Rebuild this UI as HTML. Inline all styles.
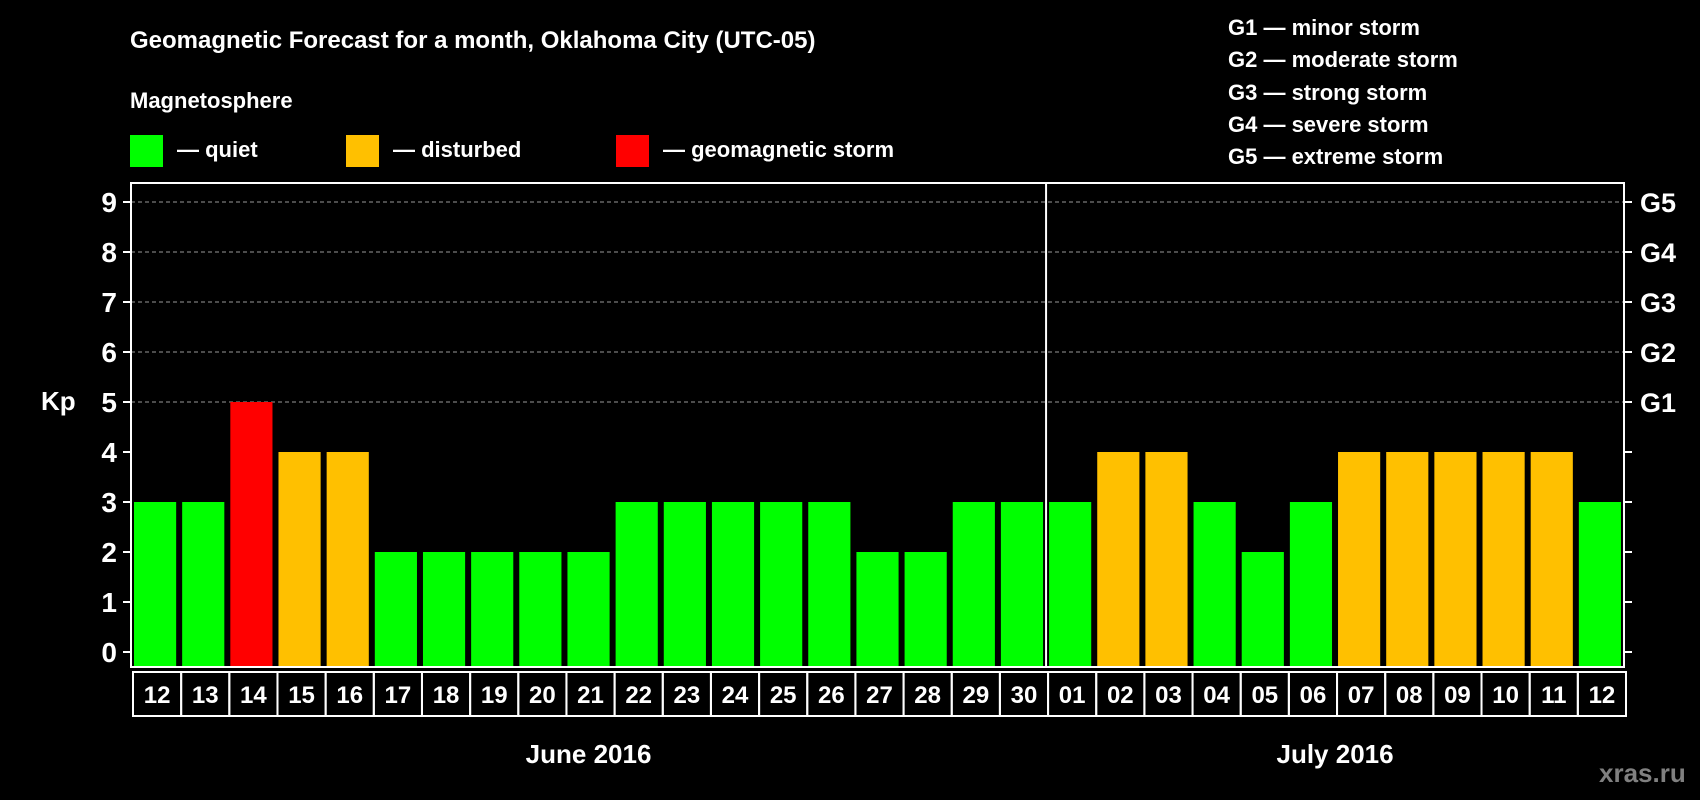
<!DOCTYPE html>
<html><head><meta charset="utf-8"><style>
html,body{margin:0;padding:0;background:#000;}
svg{display:block;font-family:"Liberation Sans",sans-serif;font-weight:bold;}
</style></head><body>
<svg id="chart" width="1700" height="800" viewBox="0 0 1700 800">
<text x="130" y="48" fill="#fff" font-size="24">Geomagnetic Forecast for a month, Oklahoma City (UTC-05)</text>
<text x="130" y="108" fill="#fff" font-size="22">Magnetosphere</text>
<g><rect x="130" y="135" width="33" height="32" fill="#00ff00"/><text x="177" y="157" fill="#fff" font-size="22">— quiet</text></g>
<g><rect x="346" y="135" width="33" height="32" fill="#ffc000"/><text x="393" y="157" fill="#fff" font-size="22">— disturbed</text></g>
<g><rect x="616" y="135" width="33" height="32" fill="#ff0000"/><text x="663" y="157" fill="#fff" font-size="22">— geomagnetic storm</text></g>
<g fill="#fff" font-size="22">
<text x="1228" y="35">G1 — minor storm</text>
<text x="1228" y="67">G2 — moderate storm</text>
<text x="1228" y="100">G3 — strong storm</text>
<text x="1228" y="132">G4 — severe storm</text>
<text x="1228" y="164">G5 — extreme storm</text>
</g>
<text x="41" y="410" fill="#fff" font-size="26">Kp</text>
<text x="1599" y="782" fill="#808080" font-size="26">xras.ru</text>
<g id="plot"></g>
</svg>
<script>
const days = ["12","13","14","15","16","17","18","19","20","21","22","23","24","25","26","27","28","29","30","01","02","03","04","05","06","07","08","09","10","11","12"];
const kpValues = [3,3,5,4,4,2,2,2,2,2,3,3,3,3,3,2,2,3,3,3,4,4,3,2,3,4,4,4,4,4,3];
const yTicks = [0,1,2,3,4,5,6,7,8,9];
const gLabels = ["G1","G2","G3","G4","G5"];
const months = ["June 2016","July 2016"];

const NS="http://www.w3.org/2000/svg";
const g=document.getElementById('plot');
const L=131,R=1624,T=183,B=667,Y0=652,Y9=202;
const slot=(R-L)/days.length;
const y=v=>Y0+(Y9-Y0)*v/9;
const x=i=>L+i*slot;
function mk(t,a){const e=document.createElementNS(NS,t);for(const k in a)e.setAttribute(k,a[k]);g.appendChild(e);return e;}
yTicks.forEach(v=>{
  if(v>=5){const l=mk('line',{x1:L,x2:R,y1:y(v),y2:y(v),stroke:'#999','stroke-dasharray':'4,3','stroke-width':1});
  
  }
  mk('line',{x1:L-8,x2:L,y1:y(v),y2:y(v),stroke:'#fff','stroke-width':2});
  mk('line',{x1:R,x2:R+8,y1:y(v),y2:y(v),stroke:'#fff','stroke-width':2});
  const t=mk('text',{x:L-14,y:y(v)+10,fill:'#fff','font-size':28,'text-anchor':'end'});t.textContent=v;
  
  
});
gLabels.forEach((s,i)=>{
  const t=mk('text',{x:R+16,y:y(5+i)+10,fill:'#fff','font-size':27});t.textContent=s;
  
  
});
kpValues.forEach((v,i)=>{
  const c=v>=5?'#ff0000':(v>=4?'#ffc000':'#00ff00');
  const r=mk('rect',{x:x(i)+3,y:y(v),width:slot-6,height:B-y(v)-1,fill:c});
  
  
  mk('rect',{x:x(i)+2,y:B+5,width:slot,height:44,fill:'none',stroke:'#fff','stroke-width':2});
  const t=mk('text',{x:x(i)+2+slot/2,y:B+36,fill:'#fff','font-size':24,'text-anchor':'middle'});t.textContent=days[i];
  
  
});
const split=days.indexOf("01");
mk('rect',{x:L,y:T,width:R-L,height:B-T,fill:'none',stroke:'#fff','stroke-width':2});
mk('line',{x1:x(split),x2:x(split),y1:T,y2:B,stroke:'#fff','stroke-width':2});
[[0,split],[split,days.length]].forEach((s,i)=>{
  const t=mk('text',{x:(x(s[0])+x(s[1]))/2,y:763,fill:'#fff','font-size':26,'text-anchor':'middle'});t.textContent=months[i];
  
  
});
</script>
</body></html>
